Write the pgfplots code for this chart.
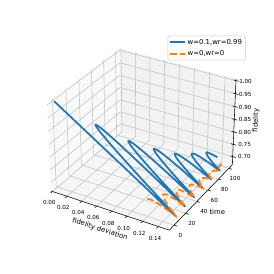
\documentclass[border=0pt]{standalone}
\usepackage{pgfplots}
\usepackage{pgfplotstable}
\usepackage{fontspec}
\setmainfont{DejaVu Sans}
\pgfplotsset{compat=1.18}
\definecolor{cblue}{HTML}{1F77B4}
\definecolor{corange}{HTML}{FF7F0E}
\pgfplotstableread{
d t f
0 0 1
0.0375 2 0.92
0.075 4 0.84
0.1125 6 0.76
0.15 8 0.68
0.1019 10 0.7824
0.0675 12 0.8555
0.0469 14 0.8994
0.04 16 0.914
0.0469 18 0.8994
0.0675 20 0.8555
0.1019 22 0.7824
0.15 24 0.68
0.115 26 0.7522
0.09 28 0.8038
0.075 30 0.8347
0.07 32 0.845
0.075 34 0.8347
0.09 36 0.8038
0.115 38 0.7522
0.15 40 0.68
0.1242 42 0.7325
0.1058 44 0.77
0.0947 46 0.7925
0.091 48 0.80
0.0947 50 0.7925
0.1058 52 0.77
0.1242 54 0.7325
0.15 56 0.68
0.1312 58 0.715
0.1178 60 0.74
0.1097 62 0.755
0.107 64 0.76
0.1097 66 0.755
0.1178 68 0.74
0.1312 70 0.715
0.15 72 0.68
0.136 74 0.7049
0.126 76 0.7228
0.12 78 0.7334
0.118 80 0.737
0.12 82 0.7334
0.126 84 0.7228
0.136 86 0.7049
0.15 88 0.68
0.1397 90 0.6962
0.1324 92 0.7078
0.128 94 0.7147
0.1265 96 0.717
0.1312 98 0.7096
0.1383 100 0.6985
}\bluedata
\pgfplotstableread{
d t f
0.12 0 0.735
0.1219 2 0.7316
0.1275 4 0.7213
0.1369 6 0.7041
0.15 8 0.68
0.1404 10 0.6997
0.1335 12 0.7138
0.1294 14 0.7222
0.128 16 0.725
0.1294 18 0.7222
0.1335 20 0.7138
0.1404 22 0.6997
0.15 24 0.68
0.1428 26 0.6931
0.1376 28 0.7025
0.1345 30 0.7081
0.1335 32 0.71
0.1345 34 0.7081
0.1376 36 0.7025
0.1428 38 0.6931
0.15 40 0.68
0.1452 42 0.6888
0.1418 44 0.695
0.1397 46 0.6988
0.139 48 0.70
0.1397 50 0.6988
0.1418 52 0.695
0.1452 54 0.6888
0.15 56 0.68
0.1459 58 0.6844
0.1430 60 0.6875
0.1412 62 0.6894
0.1406 64 0.69
0.1412 66 0.6894
0.1430 68 0.6875
0.1459 70 0.6844
0.15 72 0.68
0.1467 74 0.6813
0.1444 76 0.6823
0.143 78 0.6828
0.1425 80 0.683
0.143 82 0.6828
0.1444 84 0.6823
0.1467 86 0.6813
0.15 88 0.68
0.1478 90 0.68
0.14625 92 0.68
0.1453 94 0.68
0.145 96 0.68
0.1453 98 0.68
0.14625 100 0.68
}\orangedata
\tikzset{
  declare function={
    qca(\X)=((\X+0.002)/0.156-0.5)*1.143;
    qcb(\Y)=((\Y+8)/115-0.5)*1.143;
    qcc(\Z)=-0.4286+0.832*(\Z-0.667)/0.34;
    wvv(\X,\Y,\Z)=10-(0.433*qca(\X)-0.75*qcb(\Y)+0.5*qcc(\Z));
    prjx(\X,\Y,\Z)=143.3+1186*(0.866*qca(\X)+0.5*qcb(\Y))/wvv(\X,\Y,\Z);
    prjy(\X,\Y,\Z)=133.7-1208*(-0.25*qca(\X)+0.433*qcb(\Y)+0.866*qcc(\Z))/wvv(\X,\Y,\Z);
  }
}
\pgfplotsset{
  /pgfplots/table/pts/.style={
    x expr={prjx(\thisrow{d},\thisrow{t},\thisrow{f})},
    y expr={prjy(\thisrow{d},\thisrow{t},\thisrow{f})}
  },
  gr/.style={forget plot,no markers,line width=0.55pt,color=black!24},
  ax/.style={forget plot,no markers,line width=0.55pt,color=black},
}
\newcommand{\seg}[7]{\addplot[#1] table[pts,row sep=\\]{d t f\\ #2 #3 #4\\ #5 #6 #7\\};}
\begin{document}
\begin{tikzpicture}
\begin{axis}[
  scale only axis, width=274pt, height=274pt,
  xmin=0, xmax=274, ymin=0, ymax=274, y dir=reverse,
  hide axis, clip=false,
  legend style={at={(axis cs:167.7,35.7)},anchor=north west,
    draw=black!20,fill=white,line width=0.5pt,rounded corners=1.5pt,
    font=\fontsize{6.9}{8}\selectfont,inner xsep=1.5pt,inner ysep=1pt,
    legend cell align=left,row sep=1pt},
  legend image code/.code={\draw[#1] (0pt,0pt) -- (14.5pt,0pt);},
]
\path (axis cs:0,0) (axis cs:274,274);
% panes
\addplot[forget plot,fill=black!2.5,draw=none] table[pts,row sep=\\]{d t f\\ -0.002 -8 0.667\\ -0.002 107 0.667\\ -0.002 107 1.007\\ -0.002 -8 1.007\\ -0.002 -8 0.667\\};
\addplot[forget plot,fill=black!5,draw=none] table[pts,row sep=\\]{d t f\\ -0.002 107 0.667\\ 0.154 107 0.667\\ 0.154 107 1.007\\ -0.002 107 1.007\\ -0.002 107 0.667\\};
\addplot[forget plot,fill=black!3.7,draw=none] table[pts,row sep=\\]{d t f\\ -0.002 -8 0.667\\ 0.154 -8 0.667\\ 0.154 107 0.667\\ -0.002 107 0.667\\ -0.002 -8 0.667\\};
% grid
\pgfplotsinvokeforeach{0,0.02,0.04,0.06,0.08,0.10,0.12,0.14}{
  \seg{gr}{#1}{-8}{0.667}{#1}{107}{0.667}
  \seg{gr}{#1}{107}{0.667}{#1}{107}{1.007}
  \seg{ax}{#1}{-8}{0.667}{#1}{-11}{0.667}
}
\pgfplotsinvokeforeach{0,20,40,60,80,100}{
  \seg{gr}{-0.002}{#1}{1.007}{-0.002}{#1}{0.667}
  \seg{gr}{-0.002}{#1}{0.667}{0.154}{#1}{0.667}
  \seg{ax}{0.154}{#1}{0.667}{0.158}{#1}{0.667}
}
\pgfplotsinvokeforeach{0.70,0.75,0.80,0.85,0.90,0.95,1.00}{
  \seg{gr}{-0.002}{-8}{#1}{-0.002}{107}{#1}
  \seg{gr}{-0.002}{107}{#1}{0.154}{107}{#1}
  \seg{ax}{0.151}{107}{#1}{0.158}{107}{#1}
}
% axis lines
\seg{ax}{-0.002}{-8}{0.667}{0.154}{-8}{0.667}
\seg{ax}{0.154}{-8}{0.667}{0.154}{107}{0.667}
\seg{ax}{0.154}{107}{0.667}{0.154}{107}{1.007}
% data
\addplot[color=cblue,line width=1.75pt,smooth,tension=0.5,line join=round,no markers] table[pts] {\bluedata};
\addlegendentry{w=0.1,wr=0.99}
\addplot[color=corange,line width=1.75pt,dash pattern=on 6.5pt off 3pt,smooth,tension=0.5,no markers] table[pts] {\orangedata};
\addlegendentry{w=0,wr=0}
% labels
\begin{scope}[every node/.style={font=\fontsize{5.6}{6}\selectfont,inner sep=0pt}]
\node at (axis cs:49.3,202.3) {0.00};
\node at (axis cs:63.3,207.3) {0.02};
\node at (axis cs:78.3,212.7) {0.04};
\node at (axis cs:93.3,217.7) {0.06};
\node at (axis cs:108.3,223) {0.08};
\node at (axis cs:123.7,228) {0.10};
\node at (axis cs:139.3,233) {0.12};
\node at (axis cs:155,238.3) {0.14};
\node at (axis cs:180.3,235.3) {0};
\node at (axis cs:192,223.3) {20};
\node at (axis cs:204,211.7) {40};
\node at (axis cs:214.3,200.3) {60};
\node at (axis cs:224.7,189.3) {80};
\node at (axis cs:235,178.3) {100};
\node at (axis cs:245.5,81) {1.00};
\node at (axis cs:245.3,94) {0.95};
\node at (axis cs:245.2,107) {0.90};
\node at (axis cs:245,119.7) {0.85};
\node at (axis cs:244.8,132) {0.80};
\node at (axis cs:244.6,144.3) {0.75};
\node at (axis cs:244.4,156.7) {0.70};
\end{scope}
\begin{scope}[every node/.style={font=\fontsize{6.9}{8}\selectfont,inner sep=0pt}]
\node[rotate=-18.3] at (axis cs:100,229.3) {fidelity deviation};
\node at (axis cs:217.3,211.7) {time};
\node[rotate=87.7] at (axis cs:256,120.3) {fidelity};
\end{scope}
\end{axis}
\end{tikzpicture}
\end{document}
